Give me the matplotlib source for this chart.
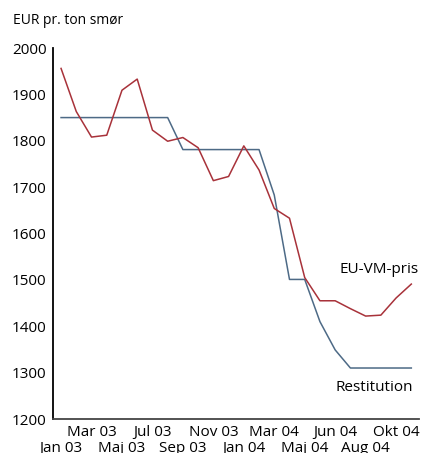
import matplotlib
matplotlib.use("Agg")
import matplotlib.pyplot as plt

plt.rcParams['font.family'] = ['Open Sans', 'DejaVu Sans']

# Data (monthly points, index positions on a categorical axis)
eu_vm_pris = [1956, 1863, 1808, 1812, 1909, 1933, 1823, 1799, 1807, 1785,
              1714, 1723, 1789, 1737, 1654, 1633, 1505, 1455, 1455, 1438,
              1422, 1424, 1461, 1491]
restitution = [1850, 1850, 1850, 1850, 1850, 1850, 1850, 1850, 1781, 1781,
               1781, 1781, 1781, 1781, 1683, 1501, 1501, 1410, 1349, 1310,
               1310, 1310, 1310, 1310]
tick_labels = ["Jan 03", "Mar 03", "Maj 03", "Jul 03", "Sep 03", "Nov 03",
               "Jan 04", "Mar 04", "Maj 04", "Jun 04", "Aug 04", "Okt 04"]
y_ticks = [1200, 1300, 1400, 1500, 1600, 1700, 1800, 1900, 2000]

red = "#a8323a"
blue = "#4d6a86"

fig = plt.figure(figsize=(4.31, 4.53), dpi=100)
ax = fig.add_axes([0.124, 0.075, 0.848, 0.819])

x = list(range(len(eu_vm_pris)))
ax.plot(x, restitution, color=blue, lw=1.1)
ax.plot(x, eu_vm_pris, color=red, lw=1.1)

ax.set_xlim(-0.5, 23.5)
ax.set_ylim(1200, 2000)
ax.set_yticks(y_ticks)
ax.set_yticklabels([str(v) for v in y_ticks], fontsize=11)
ax.set_xticks(list(range(0, 24, 2)))
ax.set_xticklabels(tick_labels, fontsize=11)
ax.tick_params(axis='both', length=0)
ax.tick_params(axis='y', pad=5)
for i, t in enumerate(ax.xaxis.get_major_ticks()):
    t.set_pad(4.5 if i % 2 == 1 else 16)

for s in ['top', 'right']:
    ax.spines[s].set_visible(False)
ax.spines['left'].set_linewidth(1.3)
ax.spines['left'].set_color('black')
ax.spines['bottom'].set_linewidth(1.3)
ax.spines['bottom'].set_color('#444444')

ax.text(23.5, 1523, "EU-VM-pris", ha='right', va='center', fontsize=11)
ax.text(23.1, 1268, "Restitution", ha='right', va='center', fontsize=11)

fig.text(13 / 431, 1 - 20 / 453, "EUR pr. ton smør", ha='left', va='center', fontsize=10)

fig.savefig("out.png", dpi=100)
